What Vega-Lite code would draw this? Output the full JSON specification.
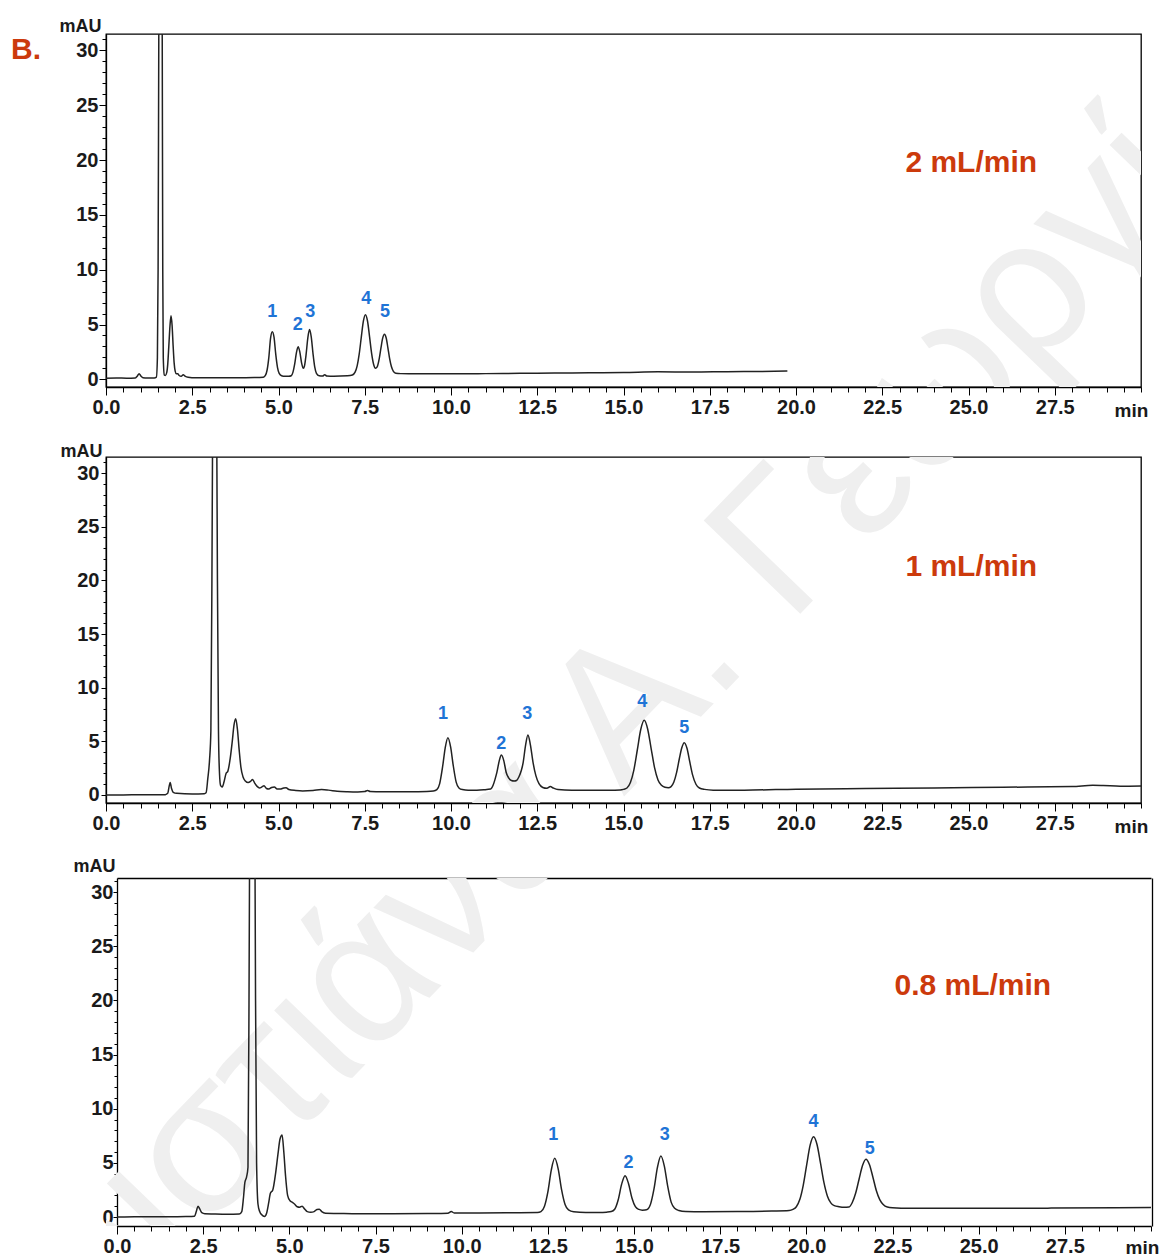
{
"$schema": "https://vega.github.io/schema/vega-lite/v6.json",
"background": "white",
"padding": {"left": 10, "top": 16, "right": 0, "bottom": 0},
"spacing": 20,
"config": {
 "view": {"stroke": "#000", "strokeWidth": 1.3},
 "axis": {"zindex": 1, "labelFont": "Liberation Sans", "labelFontSize": 20, "labelFontWeight": "bold", "labelColor": "#1a1a1a", "titleFont": "Liberation Sans", "titleFontSize": 18, "titleFontWeight": "bold", "titleColor": "#1a1a1a", "tickColor": "#000", "domainColor": "#000", "domainWidth": 1.3, "tickWidth": 1, "grid": false, "labelFlush": false, "labelOverlap": false}
},
"datasets": {
 "trace1": [
  {"t":0.0,"mAU":0.10},{"t":0.3,"mAU":0.12},{"t":0.6,"mAU":0.10},{"t":0.85,"mAU":0.12},{"t":0.91,"mAU":0.3},{"t":0.96,"mAU":0.52},{"t":1.01,"mAU":0.3},{"t":1.07,"mAU":0.15},{"t":1.2,"mAU":0.12},{"t":1.4,"mAU":0.13},{"t":1.46,"mAU":0.2},{"t":1.49,"mAU":2},{"t":1.51,"mAU":10},{"t":1.53,"mAU":31},{"t":1.58,"mAU":80},{"t":1.63,"mAU":31},{"t":1.645,"mAU":10},{"t":1.66,"mAU":2},{"t":1.69,"mAU":0.4},{"t":1.72,"mAU":0.35},{"t":1.76,"mAU":0.61},{"t":1.79,"mAU":1.39},{"t":1.82,"mAU":2.98},{"t":1.855,"mAU":4.9},{"t":1.885,"mAU":5.8},{"t":1.915,"mAU":4.95},{"t":1.945,"mAU":3.1},{"t":1.975,"mAU":1.5},{"t":2.005,"mAU":0.75},{"t":2.04,"mAU":0.5},{"t":2.08,"mAU":0.5},{"t":2.12,"mAU":0.35},{"t":2.18,"mAU":0.28},{"t":2.24,"mAU":0.42},{"t":2.29,"mAU":0.3},{"t":2.38,"mAU":0.2},{"t":2.6,"mAU":0.15},{"t":3.2,"mAU":0.15},{"t":3.8,"mAU":0.14},{"t":4.3,"mAU":0.16},{"t":4.56,"mAU":0.2},{"t":4.62,"mAU":0.36},{"t":4.67,"mAU":0.85},{"t":4.72,"mAU":2.0},{"t":4.77,"mAU":3.75},{"t":4.82,"mAU":4.35},{"t":4.87,"mAU":3.85},{"t":4.92,"mAU":2.3},{"t":4.97,"mAU":1.1},{"t":5.02,"mAU":0.55},{"t":5.09,"mAU":0.33},{"t":5.18,"mAU":0.28},{"t":5.30,"mAU":0.28},{"t":5.37,"mAU":0.33},{"t":5.42,"mAU":0.66},{"t":5.47,"mAU":1.4},{"t":5.52,"mAU":2.44},{"t":5.57,"mAU":2.97},{"t":5.62,"mAU":2.46},{"t":5.67,"mAU":1.48},{"t":5.72,"mAU":1.0},{"t":5.75,"mAU":1.18},{"t":5.80,"mAU":2.27},{"t":5.85,"mAU":3.79},{"t":5.90,"mAU":4.54},{"t":5.95,"mAU":3.85},{"t":6.00,"mAU":2.35},{"t":6.05,"mAU":1.13},{"t":6.10,"mAU":0.55},{"t":6.18,"mAU":0.33},{"t":6.28,"mAU":0.3},{"t":6.34,"mAU":0.42},{"t":6.40,"mAU":0.3},{"t":6.6,"mAU":0.28},{"t":7.0,"mAU":0.32},{"t":7.14,"mAU":0.4},{"t":7.22,"mAU":0.66},{"t":7.28,"mAU":1.23},{"t":7.34,"mAU":2.32},{"t":7.40,"mAU":3.85},{"t":7.46,"mAU":5.30},{"t":7.52,"mAU":5.90},{"t":7.58,"mAU":5.32},{"t":7.64,"mAU":3.87},{"t":7.70,"mAU":2.35},{"t":7.76,"mAU":1.33},{"t":7.81,"mAU":1.01},{"t":7.86,"mAU":1.14},{"t":7.92,"mAU":1.89},{"t":7.97,"mAU":2.87},{"t":8.02,"mAU":3.76},{"t":8.07,"mAU":4.12},{"t":8.12,"mAU":3.79},{"t":8.17,"mAU":2.9},{"t":8.22,"mAU":1.91},{"t":8.27,"mAU":1.19},{"t":8.33,"mAU":0.73},{"t":8.40,"mAU":0.56},{"t":8.55,"mAU":0.52},{"t":9.0,"mAU":0.5},{"t":10.0,"mAU":0.5},{"t":11.0,"mAU":0.52},{"t":12.0,"mAU":0.55},{"t":13.0,"mAU":0.57},{"t":14.0,"mAU":0.6},{"t":15.0,"mAU":0.62},{"t":16.0,"mAU":0.68},{"t":17.0,"mAU":0.66},{"t":18.0,"mAU":0.7},{"t":19.0,"mAU":0.72},{"t":19.75,"mAU":0.75}
 ],
 "trace2": [
  {"t":0,"mAU":0.0},{"t":0.5,"mAU":0.0},{"t":1.0,"mAU":0.02},{"t":1.5,"mAU":0.02},{"t":1.72,"mAU":0.03},{"t":1.79,"mAU":0.15},{"t":1.83,"mAU":0.8},{"t":1.86,"mAU":1.15},{"t":1.90,"mAU":0.6},{"t":1.95,"mAU":0.25},{"t":2.05,"mAU":0.15},{"t":2.5,"mAU":0.1},{"t":2.85,"mAU":0.12},{"t":2.90,"mAU":0.2},{"t":2.95,"mAU":1.5},{"t":3.00,"mAU":3.2},{"t":3.04,"mAU":6},{"t":3.07,"mAU":20},{"t":3.09,"mAU":34},{"t":3.15,"mAU":80},{"t":3.21,"mAU":34},{"t":3.23,"mAU":20},{"t":3.26,"mAU":6},{"t":3.29,"mAU":2},{"t":3.32,"mAU":0.9},{"t":3.37,"mAU":0.75},{"t":3.42,"mAU":1.2},{"t":3.48,"mAU":2.0},{"t":3.53,"mAU":2.2},{"t":3.60,"mAU":3.4},{"t":3.66,"mAU":5.0},{"t":3.71,"mAU":6.5},{"t":3.76,"mAU":7.1},{"t":3.81,"mAU":6.1},{"t":3.86,"mAU":4.2},{"t":3.91,"mAU":2.6},{"t":3.97,"mAU":1.7},{"t":4.04,"mAU":1.3},{"t":4.12,"mAU":1.15},{"t":4.20,"mAU":1.3},{"t":4.25,"mAU":1.45},{"t":4.31,"mAU":1.1},{"t":4.38,"mAU":0.8},{"t":4.45,"mAU":0.65},{"t":4.52,"mAU":0.75},{"t":4.58,"mAU":0.85},{"t":4.65,"mAU":0.6},{"t":4.72,"mAU":0.55},{"t":4.80,"mAU":0.7},{"t":4.88,"mAU":0.75},{"t":4.96,"mAU":0.55},{"t":5.05,"mAU":0.55},{"t":5.15,"mAU":0.65},{"t":5.22,"mAU":0.68},{"t":5.30,"mAU":0.5},{"t":5.50,"mAU":0.42},{"t":5.70,"mAU":0.38},{"t":6.0,"mAU":0.42},{"t":6.25,"mAU":0.5},{"t":6.45,"mAU":0.45},{"t":6.7,"mAU":0.35},{"t":7.0,"mAU":0.3},{"t":7.3,"mAU":0.28},{"t":7.5,"mAU":0.32},{"t":7.58,"mAU":0.42},{"t":7.66,"mAU":0.32},{"t":8.0,"mAU":0.3},{"t":8.8,"mAU":0.3},{"t":9.3,"mAU":0.32},{"t":9.49,"mAU":0.36},{"t":9.59,"mAU":0.49},{"t":9.67,"mAU":1.03},{"t":9.76,"mAU":2.7},{"t":9.83,"mAU":4.35},{"t":9.91,"mAU":5.34},{"t":9.99,"mAU":4.45},{"t":10.06,"mAU":2.85},{"t":10.15,"mAU":1.2},{"t":10.23,"mAU":0.65},{"t":10.33,"mAU":0.5},{"t":10.5,"mAU":0.45},{"t":10.75,"mAU":0.45},{"t":10.95,"mAU":0.48},{"t":11.15,"mAU":0.55},{"t":11.22,"mAU":0.9},{"t":11.28,"mAU":1.5},{"t":11.33,"mAU":2.1},{"t":11.40,"mAU":3.2},{"t":11.46,"mAU":3.72},{"t":11.53,"mAU":3.2},{"t":11.60,"mAU":2.1},{"t":11.67,"mAU":1.6},{"t":11.75,"mAU":1.35},{"t":11.83,"mAU":1.3},{"t":11.90,"mAU":1.35},{"t":11.97,"mAU":1.7},{"t":12.04,"mAU":2.3},{"t":12.09,"mAU":3.0},{"t":12.16,"mAU":4.6},{"t":12.23,"mAU":5.59},{"t":12.30,"mAU":4.7},{"t":12.38,"mAU":3.0},{"t":12.46,"mAU":1.8},{"t":12.55,"mAU":1.05},{"t":12.66,"mAU":0.7},{"t":12.78,"mAU":0.62},{"t":12.88,"mAU":0.78},{"t":12.96,"mAU":0.65},{"t":13.1,"mAU":0.5},{"t":13.5,"mAU":0.45},{"t":14.0,"mAU":0.45},{"t":14.6,"mAU":0.45},{"t":14.9,"mAU":0.47},{"t":15.0,"mAU":0.52},{"t":15.1,"mAU":0.65},{"t":15.2,"mAU":1.16},{"t":15.3,"mAU":2.32},{"t":15.4,"mAU":4.19},{"t":15.5,"mAU":6.1},{"t":15.6,"mAU":6.96},{"t":15.7,"mAU":6.15},{"t":15.8,"mAU":4.35},{"t":15.9,"mAU":2.55},{"t":16.0,"mAU":1.4},{"t":16.1,"mAU":0.9},{"t":16.2,"mAU":0.72},{"t":16.3,"mAU":0.68},{"t":16.38,"mAU":0.78},{"t":16.46,"mAU":1.2},{"t":16.54,"mAU":2.1},{"t":16.62,"mAU":3.4},{"t":16.69,"mAU":4.4},{"t":16.76,"mAU":4.87},{"t":16.84,"mAU":4.35},{"t":16.92,"mAU":3.1},{"t":17.0,"mAU":1.9},{"t":17.1,"mAU":1.0},{"t":17.2,"mAU":0.65},{"t":17.35,"mAU":0.52},{"t":17.6,"mAU":0.45},{"t":18.5,"mAU":0.45},{"t":20.0,"mAU":0.54},{"t":22.0,"mAU":0.6},{"t":24.0,"mAU":0.65},{"t":26.0,"mAU":0.72},{"t":28.0,"mAU":0.78},{"t":28.6,"mAU":0.9},{"t":28.9,"mAU":0.88},{"t":29.4,"mAU":0.82},{"t":30.0,"mAU":0.84}
 ],
 "trace3": [
  {"t":0,"mAU":0.0},{"t":0.5,"mAU":0.02},{"t":1.0,"mAU":0.03},{"t":1.5,"mAU":0.03},{"t":2.0,"mAU":0.05},{"t":2.25,"mAU":0.08},{"t":2.30,"mAU":0.5},{"t":2.35,"mAU":1.0},{"t":2.40,"mAU":0.75},{"t":2.46,"mAU":0.4},{"t":2.55,"mAU":0.3},{"t":2.8,"mAU":0.28},{"t":3.2,"mAU":0.26},{"t":3.55,"mAU":0.28},{"t":3.62,"mAU":0.5},{"t":3.67,"mAU":1.8},{"t":3.71,"mAU":3.2},{"t":3.76,"mAU":3.7},{"t":3.80,"mAU":4.6},{"t":3.83,"mAU":20},{"t":3.85,"mAU":36},{"t":3.925,"mAU":90},{"t":4.00,"mAU":36},{"t":4.02,"mAU":20},{"t":4.05,"mAU":5},{"t":4.09,"mAU":1.2},{"t":4.14,"mAU":0.5},{"t":4.20,"mAU":0.2},{"t":4.28,"mAU":0.05},{"t":4.34,"mAU":0.35},{"t":4.40,"mAU":1.3},{"t":4.45,"mAU":2.2},{"t":4.52,"mAU":2.5},{"t":4.60,"mAU":4.0},{"t":4.67,"mAU":5.8},{"t":4.73,"mAU":7.2},{"t":4.79,"mAU":7.57},{"t":4.84,"mAU":6.0},{"t":4.89,"mAU":3.8},{"t":4.95,"mAU":2.0},{"t":5.02,"mAU":1.5},{"t":5.09,"mAU":1.35},{"t":5.15,"mAU":1.2},{"t":5.23,"mAU":0.95},{"t":5.30,"mAU":0.9},{"t":5.37,"mAU":1.0},{"t":5.44,"mAU":0.75},{"t":5.52,"mAU":0.5},{"t":5.62,"mAU":0.45},{"t":5.72,"mAU":0.5},{"t":5.80,"mAU":0.7},{"t":5.87,"mAU":0.72},{"t":5.94,"mAU":0.5},{"t":6.05,"mAU":0.35},{"t":6.4,"mAU":0.33},{"t":7.0,"mAU":0.3},{"t":8.0,"mAU":0.3},{"t":9.0,"mAU":0.32},{"t":9.6,"mAU":0.35},{"t":9.7,"mAU":0.5},{"t":9.78,"mAU":0.38},{"t":10.5,"mAU":0.38},{"t":11.5,"mAU":0.4},{"t":12.2,"mAU":0.42},{"t":12.3,"mAU":0.5},{"t":12.4,"mAU":0.97},{"t":12.5,"mAU":2.3},{"t":12.6,"mAU":4.33},{"t":12.7,"mAU":5.42},{"t":12.8,"mAU":4.45},{"t":12.9,"mAU":2.5},{"t":13.0,"mAU":1.15},{"t":13.1,"mAU":0.65},{"t":13.25,"mAU":0.48},{"t":13.6,"mAU":0.42},{"t":14.0,"mAU":0.42},{"t":14.2,"mAU":0.45},{"t":14.34,"mAU":0.5},{"t":14.44,"mAU":0.72},{"t":14.54,"mAU":1.57},{"t":14.64,"mAU":3.01},{"t":14.74,"mAU":3.82},{"t":14.84,"mAU":3.1},{"t":14.94,"mAU":1.75},{"t":15.04,"mAU":0.95},{"t":15.14,"mAU":0.7},{"t":15.24,"mAU":0.63},{"t":15.32,"mAU":0.64},{"t":15.39,"mAU":0.7},{"t":15.48,"mAU":1.19},{"t":15.58,"mAU":2.59},{"t":15.68,"mAU":4.58},{"t":15.78,"mAU":5.63},{"t":15.88,"mAU":4.7},{"t":15.98,"mAU":2.8},{"t":16.08,"mAU":1.35},{"t":16.18,"mAU":0.8},{"t":16.3,"mAU":0.6},{"t":16.5,"mAU":0.5},{"t":17.0,"mAU":0.48},{"t":18.0,"mAU":0.5},{"t":19.0,"mAU":0.55},{"t":19.5,"mAU":0.6},{"t":19.61,"mAU":0.7},{"t":19.71,"mAU":0.95},{"t":19.81,"mAU":1.61},{"t":19.91,"mAU":2.93},{"t":20.01,"mAU":4.82},{"t":20.11,"mAU":6.64},{"t":20.21,"mAU":7.42},{"t":20.31,"mAU":6.7},{"t":20.41,"mAU":5.0},{"t":20.51,"mAU":3.2},{"t":20.61,"mAU":1.95},{"t":20.71,"mAU":1.3},{"t":20.81,"mAU":1.05},{"t":20.95,"mAU":0.95},{"t":21.1,"mAU":0.9},{"t":21.23,"mAU":0.92},{"t":21.33,"mAU":1.32},{"t":21.43,"mAU":2.19},{"t":21.53,"mAU":3.49},{"t":21.63,"mAU":4.75},{"t":21.73,"mAU":5.33},{"t":21.83,"mAU":4.85},{"t":21.93,"mAU":3.7},{"t":22.03,"mAU":2.45},{"t":22.13,"mAU":1.6},{"t":22.23,"mAU":1.15},{"t":22.35,"mAU":0.92},{"t":22.5,"mAU":0.85},{"t":23.0,"mAU":0.8},{"t":25.0,"mAU":0.8},{"t":27.0,"mAU":0.82},{"t":29.0,"mAU":0.85},{"t":30.0,"mAU":0.87}
 ],
 "peaks": [
  {"panel":1,"t":4.82,"mAU":6.14,"label":"1"},{"panel":1,"t":5.56,"mAU":4.92,"label":"2"},{"panel":1,"t":5.92,"mAU":6.14,"label":"3"},{"panel":1,"t":7.54,"mAU":7.36,"label":"4"},{"panel":1,"t":8.09,"mAU":6.14,"label":"5"},
  {"panel":2,"t":9.77,"mAU":7.51,"label":"1"},{"panel":2,"t":11.46,"mAU":4.78,"label":"2"},{"panel":2,"t":12.21,"mAU":7.51,"label":"3"},{"panel":2,"t":15.54,"mAU":8.69,"label":"4"},{"panel":2,"t":16.76,"mAU":6.21,"label":"5"},
  {"panel":3,"t":12.66,"mAU":7.57,"label":"1"},{"panel":3,"t":14.84,"mAU":4.96,"label":"2"},{"panel":3,"t":15.89,"mAU":7.57,"label":"3"},{"panel":3,"t":20.21,"mAU":8.81,"label":"4"},{"panel":3,"t":21.84,"mAU":6.26,"label":"5"}
 ],
 "notes": [
  {"panel":1,"t":25.08,"mAU":19.75,"label":"2 mL/min"},{"panel":1,"t":-2.32,"mAU":30.05,"label":"B."},
  {"panel":2,"t":25.08,"mAU":21.25,"label":"1 mL/min"},
  {"panel":3,"t":24.83,"mAU":21.33,"label":"0.8 mL/min"}
 ],
 "watermark": [
  {"panel":1,"t":15.39,"mAU":-29.07,"label":"Χριστιάνα Α. Γεωργίου"},
  {"panel":2,"t":15.39,"mAU":9.04,"label":"Χριστιάνα Α. Γεωργίου"},
  {"panel":3,"t":15.09,"mAU":47.92,"label":"Χριστιάνα Α. Γεωργίου"}
 ]
},
"vconcat": [
 {
  "width": 1035, "height": 353,
  "resolve": {"axis": {"x": "independent", "y": "independent"}},
  "layer": [
   {"data": {"name": "watermark"}, "transform": [{"filter": "datum.panel == 1"}], "mark": {"type": "text", "font": "Liberation Sans", "fontSize": 195, "angle": -46, "color": "#efefef", "clip": true},
    "encoding": {"x": {"field": "t", "type": "quantitative", "axis": null}, "y": {"field": "mAU", "type": "quantitative", "axis": null}, "text": {"field": "label"}}},
   {"data": {"name": "trace1"}, "mark": {"type": "line", "interpolate": "monotone", "color": "#222222", "strokeWidth": 1.5, "clip": true},
    "encoding": {
     "x": {"field": "t", "type": "quantitative", "scale": {"domain": [0, 30], "nice": false, "zero": false}, "axis": {"orient": "bottom", "values": [0,2.5,5,7.5,10,12.5,15,17.5,20,22.5,25,27.5], "format": ".1f", "tickSize": 8, "labelPadding": 2, "title": "min", "titleX": 1025, "titleY": 29, "titleAlign": "center", "titleBaseline": "alphabetic", "titleFontSize": 19}},
     "y": {"field": "mAU", "type": "quantitative", "scale": {"domain": [-0.7, 31.5], "nice": false, "zero": false}, "axis": {"orient": "left", "values": [0,5,10,15,20,25,30], "tickSize": 7, "labelPadding": 1, "title": "mAU", "titleAngle": 0, "titleAlign": "right", "titleBaseline": "alphabetic", "titleX": -5, "titleY": -3}}
    }},
   {"data": {"name": "peaks"}, "transform": [{"filter": "datum.panel == 1"}], "mark": {"type": "text", "font": "Liberation Sans", "fontSize": 18, "fontWeight": "bold", "color": "#1f74d6"},
    "encoding": {
     "x": {"field": "t", "type": "quantitative", "axis": {"orient": "bottom", "values": [0,0.5,1,1.5,2,2.5,3,3.5,4,4.5,5,5.5,6,6.5,7,7.5,8,8.5,9,9.5,10,10.5,11,11.5,12,12.5,13,13.5,14,14.5,15,15.5,16,16.5,17,17.5,18,18.5,19,19.5,20,20.5,21,21.5,22,22.5,23,23.5,24,24.5,25,25.5,26,26.5,27,27.5,28,28.5,29,29.5,30], "labels": false, "domain": false, "tickSize": 5, "title": null}},
     "y": {"field": "mAU", "type": "quantitative", "axis": {"orient": "left", "values": [0,1,2,3,4,5,6,7,8,9,10,11,12,13,14,15,16,17,18,19,20,21,22,23,24,25,26,27,28,29,30,31], "labels": false, "domain": false, "tickSize": 4, "title": null}},
     "text": {"field": "label"}
    }},
   {"data": {"name": "notes"}, "transform": [{"filter": "datum.panel == 1"}], "mark": {"type": "text", "font": "Liberation Sans", "fontSize": 30, "fontWeight": "bold", "color": "#cc3a0c"},
    "encoding": {
     "x": {"field": "t", "type": "quantitative", "axis": null},
     "y": {"field": "mAU", "type": "quantitative", "axis": null},
     "text": {"field": "label"}
    }}
  ]
 },
 {
  "width": 1035, "height": 346,
  "resolve": {"axis": {"x": "independent", "y": "independent"}},
  "layer": [
   {"data": {"name": "watermark"}, "transform": [{"filter": "datum.panel == 2"}], "mark": {"type": "text", "font": "Liberation Sans", "fontSize": 195, "angle": -46, "color": "#efefef", "clip": true},
    "encoding": {"x": {"field": "t", "type": "quantitative", "axis": null}, "y": {"field": "mAU", "type": "quantitative", "axis": null}, "text": {"field": "label"}}},
   {"data": {"name": "trace2"}, "mark": {"type": "line", "interpolate": "monotone", "color": "#222222", "strokeWidth": 1.5, "clip": true},
    "encoding": {
     "x": {"field": "t", "type": "quantitative", "scale": {"domain": [0, 30], "nice": false, "zero": false}, "axis": {"orient": "bottom", "values": [0,2.5,5,7.5,10,12.5,15,17.5,20,22.5,25,27.5], "format": ".1f", "tickSize": 8, "labelPadding": 2, "title": "min", "titleX": 1025, "titleY": 29, "titleAlign": "center", "titleBaseline": "alphabetic", "titleFontSize": 19}},
     "y": {"field": "mAU", "type": "quantitative", "scale": {"domain": [-0.75, 31.5], "nice": false, "zero": false}, "axis": {"orient": "left", "values": [0,5,10,15,20,25,30], "tickSize": 5, "labelPadding": 2, "title": "mAU", "titleAngle": 0, "titleAlign": "right", "titleBaseline": "alphabetic", "titleX": -4, "titleY": -1}}
    }},
   {"data": {"name": "peaks"}, "transform": [{"filter": "datum.panel == 2"}], "mark": {"type": "text", "font": "Liberation Sans", "fontSize": 18, "fontWeight": "bold", "color": "#1f74d6"},
    "encoding": {
     "x": {"field": "t", "type": "quantitative", "axis": {"orient": "bottom", "values": [0,0.5,1,1.5,2,2.5,3,3.5,4,4.5,5,5.5,6,6.5,7,7.5,8,8.5,9,9.5,10,10.5,11,11.5,12,12.5,13,13.5,14,14.5,15,15.5,16,16.5,17,17.5,18,18.5,19,19.5,20,20.5,21,21.5,22,22.5,23,23.5,24,24.5,25,25.5,26,26.5,27,27.5,28,28.5,29,29.5,30], "labels": false, "domain": false, "tickSize": 5, "title": null}},
     "y": {"field": "mAU", "type": "quantitative", "axis": {"orient": "left", "values": [0,1,2,3,4,5,6,7,8,9,10,11,12,13,14,15,16,17,18,19,20,21,22,23,24,25,26,27,28,29,30,31], "labels": false, "domain": false, "tickSize": 3, "title": null}},
     "text": {"field": "label"}
    }},
   {"data": {"name": "notes"}, "transform": [{"filter": "datum.panel == 2"}], "mark": {"type": "text", "font": "Liberation Sans", "fontSize": 30, "fontWeight": "bold", "color": "#cc3a0c"},
    "encoding": {
     "x": {"field": "t", "type": "quantitative", "axis": null},
     "y": {"field": "mAU", "type": "quantitative", "axis": null},
     "text": {"field": "label"}
    }}
  ]
 },
 {
  "width": 1046, "height": 348,
  "view": {"stroke": null},
  "resolve": {"axis": {"x": "independent", "y": "independent"}},
  "layer": [
   {"data": {"name": "watermark"}, "transform": [{"filter": "datum.panel == 3"}], "mark": {"type": "text", "font": "Liberation Sans", "fontSize": 195, "angle": -46, "color": "#efefef", "clip": true},
    "encoding": {"x": {"field": "t", "type": "quantitative", "axis": null}, "y": {"field": "mAU", "type": "quantitative", "axis": null}, "text": {"field": "label"}}},
   {"data": {"name": "trace3"}, "mark": {"type": "line", "interpolate": "monotone", "color": "#222222", "strokeWidth": 1.5, "clip": true},
    "encoding": {
     "x": {"field": "t", "type": "quantitative", "scale": {"domain": [0, 30], "range": [11, 1045], "nice": false, "zero": false}, "axis": {"orient": "bottom", "values": [0,2.5,5,7.5,10,12.5,15,17.5,20,22.5,25,27.5], "format": ".1f", "tickSize": 8, "labelPadding": 2, "title": "min", "titleX": 1036, "titleY": 27, "titleAlign": "center", "titleBaseline": "alphabetic", "titleFontSize": 19}},
     "y": {"field": "mAU", "type": "quantitative", "scale": {"domain": [-0.83, 31.3], "nice": false, "zero": false}, "axis": {"orient": "left", "offset": -11, "values": [0,5,10,15,20,25,30], "tickSize": 4, "labelPadding": 0, "title": "mAU", "titleAngle": 0, "titleAlign": "right", "titleBaseline": "alphabetic", "titleX": -2, "titleY": -7}}
    }},
   {"data": {"name": "peaks"}, "transform": [{"filter": "datum.panel == 3"}], "mark": {"type": "text", "font": "Liberation Sans", "fontSize": 18, "fontWeight": "bold", "color": "#1f74d6"},
    "encoding": {
     "x": {"field": "t", "type": "quantitative", "axis": {"orient": "bottom", "values": [0,0.5,1,1.5,2,2.5,3,3.5,4,4.5,5,5.5,6,6.5,7,7.5,8,8.5,9,9.5,10,10.5,11,11.5,12,12.5,13,13.5,14,14.5,15,15.5,16,16.5,17,17.5,18,18.5,19,19.5,20,20.5,21,21.5,22,22.5,23,23.5,24,24.5,25,25.5,26,26.5,27,27.5,28,28.5,29,29.5,30], "labels": false, "domain": false, "tickSize": 5, "title": null}},
     "y": {"field": "mAU", "type": "quantitative", "axis": {"orient": "left", "offset": -11, "values": [0,1,2,3,4,5,6,7,8,9,10,11,12,13,14,15,16,17,18,19,20,21,22,23,24,25,26,27,28,29,30,31], "labels": false, "domain": false, "tickSize": 3, "title": null}},
     "text": {"field": "label"}
    }},
   {"data": {"name": "notes"}, "transform": [{"filter": "datum.panel == 3"}], "mark": {"type": "text", "font": "Liberation Sans", "fontSize": 30, "fontWeight": "bold", "color": "#cc3a0c"},
    "encoding": {
     "x": {"field": "t", "type": "quantitative", "axis": {"orient": "top", "labels": false, "ticks": false, "domain": true, "title": null}},
     "y": {"field": "mAU", "type": "quantitative", "axis": {"orient": "right", "labels": false, "ticks": false, "domain": true, "title": null}},
     "text": {"field": "label"}
    }}
  ]
 }
]
}
